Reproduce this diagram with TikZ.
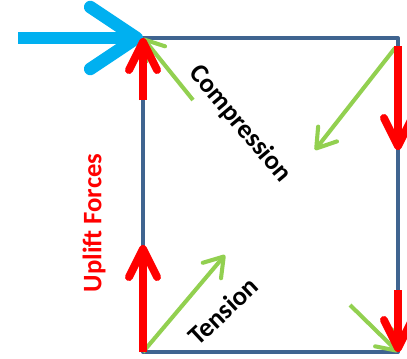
\documentclass[tikz,border=0pt]{standalone}
\usepackage{fontspec}
\setmainfont{Carlito}
\usepackage{tikz}
\usetikzlibrary{arrows.meta}
\definecolor{frame}{HTML}{3F6490}
\definecolor{push}{HTML}{00B0F0}
\definecolor{uplift}{HTML}{FF0000}
\definecolor{member}{HTML}{92D050}

\begin{document}
\begin{tikzpicture}[x=0.025cm,y=-0.025cm,
  wall/.style={draw=frame,line width=2.9pt,line join=round},
  upar/.style={draw=uplift,line width=5.6pt,-{Straight Barb[length=20pt,width=20pt,round]}},
  diag/.style={draw=member,line width=2.9pt,-{Straight Barb[length=13pt,width=17pt,round]}},
  load/.style={draw=push,line width=9pt,-{Straight Barb[length=33pt,width=44pt,round]}},
  lbl/.style={font=\fontsize{19}{19}\selectfont\bfseries},
]
\useasboundingbox (0,0) rectangle (407,358);

\coordinate (tl) at (143,38);
\coordinate (tr) at (398,38);
\coordinate (bl) at (143,352);
\coordinate (br) at (398,352);

\draw[wall] (tl) -- (tr) -- (br) -- (bl) -- cycle;

\coordinate (c1) at (193,100);
\coordinate (c2) at (395,48);
\coordinate (c2e) at (315,150);
\coordinate (t1e) at (225,255);
\coordinate (t2) at (350,305);

\draw[diag] (c1) -- (tl);
\draw[diag] (c2) -- (c2e);
\draw[diag] (bl) -- (t1e);
\draw[diag] (t2) -- (br);

\coordinate (w) at (18,38);
\draw[load] (w) -- (tl);

\coordinate (u1) at (143,100);
\coordinate (u2e) at (143,245);
\coordinate (d1) at (398,46);
\coordinate (d1e) at (398,150);
\coordinate (d2) at (398,290);

\draw[upar] (u1) -- (tl);
\draw[upar] (bl) -- (u2e);
\draw[upar] (d1) -- (d1e);
\draw[upar] (d2) -- (br);

\node[lbl,rotate=-50] (comp) at (240,124) {Compression};
\node[lbl,rotate=43] (tens) at (223,311) {Tension};
\node[lbl,rotate=90,color=uplift] (upf) at (94,223) {Uplift Forces};
\end{tikzpicture}
\end{document}
